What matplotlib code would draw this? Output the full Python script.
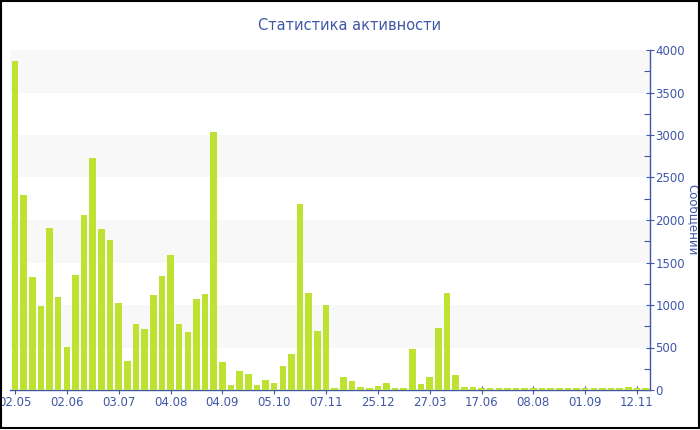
# -*- coding: utf-8 -*-
"""
plot.py: статистика активности (столбцы по периодам, ось справа).
"""

import numpy as np
import matplotlib
matplotlib.use("Agg")
import matplotlib.pyplot as plt
from matplotlib.patches import Rectangle
from matplotlib.ticker import MultipleLocator

# --- данные ---
messages = [
    3870, 2300, 1325, 990, 1910, 1100, 505, 1350, 2060, 2730,
    1890, 1765, 1020, 345, 775, 715, 1120, 1340, 1590, 775,
    680, 1075, 1125, 3030, 330, 60, 225, 185, 55, 118,
    82, 278, 418, 2190, 1140, 690, 1000, 20, 157, 104,
    34, 25, 45, 80, 28, 26, 484, 75, 155, 725,
    1140, 173, 35, 31, 26, 25, 22, 21, 21, 20,
    20, 21, 20, 21, 20, 20, 21, 20, 20, 21,
    20, 30, 21, 20,
]
tick_labels = ["02.05", "02.06", "03.07", "04.08", "04.09", "05.10", "07.11",
               "25.12", "27.03", "17.06", "08.08", "01.09", "12.11"]
tick_step = 6

title = "Статистика активности"
ylabel = "Сообщений"

blue = "#3f57a6"
bar_color = "#bde232"

fig = plt.figure(figsize=(7, 4.3), dpi=100)
ax = fig.add_axes([10 / 700, 40 / 430, 640 / 700, 340 / 430])

x = np.arange(len(messages))
ax.bar(x, messages, width=0.76, color=bar_color, linewidth=0, zorder=3)

# серые полосы
for lo in range(500, 4000, 1000):
    ax.axhspan(lo, lo + 500, color="#f8f8f8", zorder=0, lw=0)

ax.set_xlim(-0.58, len(messages) - 0.5)
ax.set_ylim(0, 4000)
ax.set_xticks(x[::tick_step][:len(tick_labels)])
ax.set_xticklabels(tick_labels)
ax.yaxis.set_major_locator(MultipleLocator(500))
ax.yaxis.set_minor_locator(MultipleLocator(250))
ax.yaxis.tick_right()
ax.yaxis.set_label_position("right")

for side in ("top", "left"):
    ax.spines[side].set_visible(False)
for side in ("bottom", "right"):
    ax.spines[side].set_color(blue)
    ax.spines[side].set_linewidth(1.0)

ax.tick_params(axis="both", which="major", colors=blue, labelcolor=blue,
               labelsize=8.5, direction="inout", length=6, width=0.8, pad=1)
ax.tick_params(axis="y", which="minor", colors=blue, direction="in", length=4, width=0.8)

ax.set_ylabel(ylabel, color=blue, fontsize=8.5, rotation=270, labelpad=10)
fig.text(0.5, 1 - 25 / 430, title, color=blue, fontsize=10.5, ha="center", va="center")

# рамка вокруг картинки
fig.patches.append(Rectangle((0.5 / 700, 2 / 430), 698.5 / 700, 427.5 / 430,
                             transform=fig.transFigure, fill=False,
                             edgecolor="black", linewidth=1.5))

fig.savefig("out.png", dpi=100)
